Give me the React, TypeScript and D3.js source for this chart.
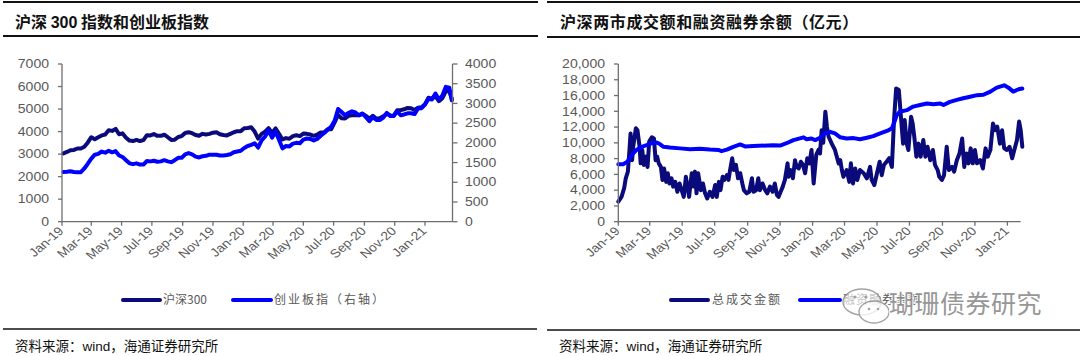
import React from "react";
import * as d3 from "d3";

// ---------- data ----------
const MS_DAY = 864e5;
const BASE = Date.UTC(2019, 0, 1);
const toDate = (d: number) => new Date(BASE + d * MS_DAY);

const xTickLabels = ["Jan-19", "Mar-19", "May-19", "Jul-19", "Sep-19", "Nov-19", "Jan-20", "Mar-20", "May-20", "Jul-20", "Sep-20", "Nov-20", "Jan-21"];
const leftYTicks = [0, 1000, 2000, 3000, 4000, 5000, 6000, 7000];
const rightYTicks = [0, 500, 1000, 1500, 2000, 2500, 3000, 3500, 4000];
const tradeYTicks = [0, 2000, 4000, 6000, 8000, 10000, 12000, 14000, 16000, 18000, 20000];

// weekly closes (Fridays from 2019-01-04), last point 2021-02-24
const leftDays = d3.range(112).map((i) => 3 + 7 * i).concat([785]);
const hs300 = [
  3035, 3095, 3170, 3185, 3250, 3250, 3330, 3520, 3750, 3660, 3750, 3830, 3870, 4060, 4030, 4120, 3880,
  3920, 3730, 3600, 3580, 3630, 3580, 3620, 3840, 3830, 3890, 3810, 3810, 3860, 3750, 3630, 3640, 3760, 3800,
  3940, 3970, 3930, 3850, 3815, 3900, 3870, 3900, 3950, 3970, 3880, 3850, 3830, 3900, 3970, 4020, 4020,
  4145, 4160, 4190, 4000, 3690, 3900, 4000, 4150, 3940, 4140, 3900, 3650, 3710, 3680, 3800, 3840, 3800,
  3910, 3900, 3870, 3810, 3870, 3960, 3970, 4100, 4100, 4410, 4740, 4590, 4580, 4700, 4720, 4730, 4720, 4800,
  4700, 4580, 4700, 4570, 4590, 4680, 4790, 4720, 4700, 4950, 4950, 4990, 5050, 5040, 4960, 5060, 5080,
  5210, 5500, 5460, 5570, 5350, 5480, 5800, 5780, 5450,
];
const cyb = [
  1261, 1268, 1280, 1262, 1255, 1255, 1350, 1470, 1600, 1700, 1720, 1780, 1750, 1800, 1760, 1790, 1680,
  1640, 1560, 1480, 1460, 1480, 1450, 1450, 1540, 1530, 1545, 1520, 1530, 1560, 1530, 1510, 1560, 1620, 1620,
  1710, 1740, 1710, 1650, 1630, 1660, 1670, 1700, 1700, 1700, 1680, 1680, 1690, 1710, 1760, 1780, 1800,
  1870, 1920, 1950, 1990, 1880, 2060, 2160, 2320, 2130, 2290, 2080, 1860, 1920, 1910, 1980, 2000, 1990,
  2080, 2110, 2100, 2060, 2100, 2180, 2250, 2330, 2410, 2560, 2860, 2780, 2700, 2760, 2800, 2770, 2700, 2740,
  2650, 2550, 2650, 2580, 2580, 2640, 2760, 2680, 2680, 2800, 2700, 2720, 2750, 2750, 2730, 2870, 2880,
  2970, 3120, 3100, 3250, 3100, 3200, 3420, 3400, 3080,
];

// 总成交金额 (days since 2019-01-01, 亿元)
const turnoverDays = [
  0, 6, 11, 14, 18, 21, 23, 26, 28, 33, 36, 40, 42, 45, 48, 52, 55, 58, 63, 67, 70, 73, 76, 80, 83, 86, 90, 93, 96, 100,
  103, 107, 111, 115, 119, 123, 127, 130, 133, 138, 141, 144, 147, 150, 155, 159, 163, 167, 172, 177, 182, 185, 189, 192,
  196, 199, 204, 207, 210, 214, 217, 221, 225, 229, 233, 236, 241, 246, 251, 254, 259, 263, 266, 271, 276, 280, 285, 290,
  294, 298, 301, 305, 309, 313, 318, 320, 324, 328, 332, 335, 339, 343, 347, 351, 355, 359, 363, 367, 372, 376, 379, 382,
  385, 389, 392, 395, 401, 407, 414, 417, 420, 423, 429, 434, 437, 441, 445, 449, 454, 461, 467, 473, 476, 481, 486, 491,
  495, 499, 504, 509, 514, 518, 522, 527, 531, 535, 538, 542, 545, 550, 553, 556, 560, 564, 568, 573, 577, 581, 586, 591,
  595, 600, 603, 608, 612, 617, 621, 627, 631, 636, 641, 646, 650, 654, 658, 662, 666, 670, 674, 680, 685, 690, 694, 699,
  704, 708, 712, 717, 721, 725, 730, 735, 740, 744, 749, 753, 756, 759,
];
const turnover = [
  2550, 3150, 4250, 5500, 6350, 9100, 11200, 7800, 9500, 11850, 11600, 9500, 7400, 9100, 7200, 8250, 6950, 10150, 10700, 10550,
  7800, 8250, 7400, 6950, 5300, 6750, 5050, 6150, 4850, 5500, 4450, 5050, 3800, 4850, 4000, 3150, 5700, 4450, 3150, 6150,
  4450, 6350, 3600, 6150, 4000, 4850, 3600, 2950, 3800, 3150, 4650, 3150, 5050, 4000, 5700, 5300, 5900, 5300, 6550, 8050,
  6550, 7200, 5500, 6150, 4850, 4000, 3600, 3800, 5500, 3800, 4000, 5500, 4000, 4850, 4000, 3600, 4450, 3800, 4850, 3400,
  3150, 3800, 4450, 5300, 7400, 5700, 6550, 5500, 7800, 6950, 6750, 7600, 7200, 6150, 8050, 7400, 9100, 4850, 8500, 9100,
  8650, 11600, 10000, 13950, 12000, 10800, 9900, 9100, 7400, 7800, 6550, 5700, 6550, 5050, 7400, 4850, 6750, 5300, 6550, 6150,
  5500, 6950, 5300, 4650, 6150, 7600, 5900, 7200, 7600, 8050, 6950, 12900, 16900, 16700, 13300, 9900, 12900, 9900, 9100, 13300,
  12450, 10800, 8250, 9900, 8250, 10350, 8250, 9500, 7800, 9100, 7200, 6550, 5700, 5300, 5900, 9500, 6550, 6950, 6350, 7800,
  8650, 10550, 6950, 8650, 7400, 9300, 7400, 9100, 7400, 7800, 6750, 9300, 8250, 9100, 12450, 11600, 12050, 9900, 11600, 9300,
  9100, 9500, 8050, 9100, 10350, 12700, 11600, 9500,
];

// 融资融券余额
const marginDays = [
  0, 9, 17, 25, 34, 44, 53, 63, 72, 78, 85, 97, 116, 135, 153, 172, 188, 194, 204, 216, 229, 238, 254, 291, 304, 316, 329,
  348, 354, 363, 370, 379, 388, 398, 407, 417, 429, 442, 454, 467, 479, 492, 506, 514, 519, 523, 529, 542, 554, 567, 580,
  592, 605, 611, 623, 636, 648, 661, 674, 686, 699, 711, 725, 733, 742, 752, 759,
];
const margin = [
  7300, 7300, 7600, 8450, 9100, 9500, 9700, 9950, 10050, 9850, 9500, 9400, 9300, 9200, 9250, 9150, 9100, 8950, 9150, 9500,
  9800, 9550, 9600, 9700, 9650, 9950, 10350, 10700, 10450, 10550, 10350, 10650, 11200, 11400, 11200, 10700, 10550, 10600,
  10450, 10650, 10850, 11200, 11550, 11850, 12700, 13500, 13950, 14150, 14600, 14800, 15000, 14900, 15000, 14800, 15200,
  15450, 15650, 15850, 16050, 16100, 16500, 17000, 17300, 17000, 16500, 16800, 16900,
];

// ---------- styles ----------
const NAVY = "#0a0a7a";
const BLUE = "#0000ff";
const AXIS = "#6e6e6e";
const LABEL = "#595959";
const SANS = "'Liberation Sans', Arial, sans-serif";
const CJK = "'Noto Sans CJK SC', sans-serif";
const parseTick = d3.utcParse("%b-%y");

type Pt = [number, number];

function YLabels({ ticks, scale, x, anchor, fmt }: { ticks: number[]; scale: d3.ScaleLinear<number, number>; x: number; anchor: "start" | "end"; fmt: (v: number) => string }) {
  return (
    <g>
      {ticks.map((t) => (
        <text key={t} transform={`translate(${x},${scale(t)}) scale(1.17,1)`} textAnchor={anchor} dy="0.35em" fontSize={12} fontFamily={SANS} fill={LABEL}>
          {fmt(t)}
        </text>
      ))}
    </g>
  );
}

function XAxis({ scale, y }: { scale: d3.ScaleTime<number, number>; y: number }) {
  const [r0, r1] = scale.range();
  return (
    <g>
      <line x1={r0} x2={r1} y1={y} y2={y} stroke={AXIS} strokeWidth={1.3} />
      {xTickLabels.map((lab) => {
        const x = scale(parseTick(lab) as Date);
        return (
          <g key={lab}>
            <line x1={x} x2={x} y1={y} y2={y + 4} stroke={AXIS} strokeWidth={1.3} />
            <text transform={`translate(${x - 1},${y + 7}) scale(1.15,1) rotate(-45)`} textAnchor="end" dy="0.35em" fontSize={12} fontFamily={SANS} fill={LABEL}>
              {lab}
            </text>
          </g>
        );
      })}
    </g>
  );
}

export default function App() {
  // left panel
  const xL = d3.scaleUtc().domain([toDate(0), toDate(786.4)]).range([62, 452.5]);
  const yL = d3.scaleLinear().domain([0, 7000]).range([221.7, 64]);
  const yR = d3.scaleLinear().domain([0, 4000]).range([221.7, 64]);
  const lineHs = d3.line<Pt>().x((d) => xL(toDate(d[0]))).y((d) => yL(d[1]));
  const lineCyb = d3.line<Pt>().x((d) => xL(toDate(d[0]))).y((d) => yR(d[1]));
  const hsPts: Pt[] = leftDays.map((d, i) => [d, hs300[i]]);
  const cybPts: Pt[] = leftDays.map((d, i) => [d, cyb[i]]);

  // right panel
  const xT = d3.scaleUtc().domain([toDate(0), toDate(756)]).range([618.3, 1020.7]);
  const yT = d3.scaleLinear().domain([0, 20000]).range([221.7, 64]);
  const lineT = d3.line<Pt>().x((d) => xT(toDate(d[0]))).y((d) => yT(d[1]));
  const tPts: Pt[] = turnoverDays.map((d, i) => [d, turnover[i]]);
  const mPts: Pt[] = marginDays.map((d, i) => [d, margin[i]]);

  const fmtComma = d3.format(",");

  return (
    <div style={{ position: "fixed", left: 0, top: 0, width: 1080, height: 356, background: "#fff" }}>
      <svg width={1080} height={356} style={{ display: "block" }}>
        <rect width={1080} height={356} fill="#fff" />
        {/* header lines & titles */}
        <line x1={3} x2={538} y1={2} y2={2} stroke="#111" strokeWidth={2} />
        <line x1={3} x2={538} y1={36} y2={36} stroke="#111" strokeWidth={2} />
        <line x1={547} x2={1080} y1={2} y2={2} stroke="#111" strokeWidth={2} />
        <line x1={547} x2={1080} y1={37} y2={37} stroke="#111" strokeWidth={2} />
        <text x={15} y={28} fontSize={16} fontWeight="bold" fontFamily={CJK} fill="#111">
          沪深 <tspan fontFamily={SANS}>300</tspan> 指数和创业板指数
        </text>
        <text x={560} y={28} fontSize={16} fontWeight="bold" fontFamily={CJK} fill="#111" letterSpacing={0.6}>
          沪深两市成交额和融资融券余额（亿元）
        </text>

        {/* ---- left chart ---- */}
        <path d={lineHs(hsPts) || ""} fill="none" stroke={NAVY} strokeWidth={4} strokeLinejoin="round" strokeLinecap="round" />
        <path d={lineCyb(cybPts) || ""} fill="none" stroke={BLUE} strokeWidth={4} strokeLinejoin="round" strokeLinecap="round" />
        <line x1={62} x2={62} y1={64} y2={221.7} stroke={AXIS} strokeWidth={1.3} />
        {leftYTicks.map((t) => (
          <line key={t} x1={58} x2={62} y1={yL(t)} y2={yL(t)} stroke={AXIS} strokeWidth={1.3} />
        ))}
        <YLabels ticks={leftYTicks} scale={yL} x={49} anchor="end" fmt={(v) => String(v)} />
        <line x1={452.5} x2={452.5} y1={64} y2={221.7} stroke={AXIS} strokeWidth={1.3} />
        {rightYTicks.map((t) => (
          <line key={t} x1={452.5} x2={457.5} y1={yR(t)} y2={yR(t)} stroke={AXIS} strokeWidth={1.3} />
        ))}
        <YLabels ticks={rightYTicks} scale={yR} x={465} anchor="start" fmt={(v) => String(v)} />
        <XAxis scale={xL} y={221.7} />

        {/* left legend */}
        <line x1={123} x2={160} y1={300} y2={300} stroke={NAVY} strokeWidth={4} strokeLinecap="round" />
        <text x={163} y={300} dy="0.35em" fontSize={12} fontFamily={CJK} fill={LABEL}>沪深300</text>
        <line x1={233} x2={271} y1={300} y2={300} stroke={BLUE} strokeWidth={4} strokeLinecap="round" />
        <text x={274} y={300} dy="0.35em" fontSize={12} fontFamily={CJK} fill={LABEL} letterSpacing={2}>创业板指（右轴）</text>

        {/* ---- right chart ---- */}
        <path d={lineT(tPts) || ""} fill="none" stroke={NAVY} strokeWidth={4} strokeLinejoin="round" strokeLinecap="round" />
        <path d={lineT(mPts) || ""} fill="none" stroke={BLUE} strokeWidth={4} strokeLinejoin="round" strokeLinecap="round" />
        <line x1={618.3} x2={618.3} y1={64} y2={221.7} stroke={AXIS} strokeWidth={1.3} />
        {tradeYTicks.map((t) => (
          <line key={t} x1={614} x2={618.3} y1={yT(t)} y2={yT(t)} stroke={AXIS} strokeWidth={1.3} />
        ))}
        <YLabels ticks={tradeYTicks} scale={yT} x={605} anchor="end" fmt={fmtComma} />
        <XAxis scale={xT} y={221.7} />

        {/* right legend */}
        <line x1={671} x2={708} y1={300} y2={300} stroke={NAVY} strokeWidth={4} strokeLinecap="round" />
        <text x={712} y={300} dy="0.35em" fontSize={12} fontFamily={CJK} fill={LABEL} letterSpacing={2}>总成交金额</text>
        <line x1={800} x2={840} y1={300} y2={300} stroke={BLUE} strokeWidth={4} strokeLinecap="round" />
        <text x={843} y={300} dy="0.35em" fontSize={12} fontFamily={CJK} fill={LABEL} letterSpacing={1}>融资融券余额</text>

        {/* footers */}
        <line x1={3} x2={537} y1={329} y2={329} stroke="#111" strokeWidth={1.6} />
        <text x={15} y={351} fontSize={13.5} fontFamily={CJK} fill="#111">
          资料来源：<tspan fontFamily={SANS}>wind</tspan>，海通证券研究所
        </text>
        <line x1={547} x2={1080} y1={330} y2={330} stroke="#111" strokeWidth={1.6} />
        <text x={559} y={351} fontSize={13.5} fontFamily={CJK} fill="#111">
          资料来源：<tspan fontFamily={SANS}>wind</tspan>，海通证券研究所
        </text>

        {/* watermark */}
        <g opacity={0.9}>
          <ellipse cx={862} cy={302} rx={19} ry={13} fill="#fff" fillOpacity={0.7} stroke="#9a9a9a" strokeWidth={1.4} />
          <ellipse cx={874} cy={312} rx={15} ry={11} fill="#fff" fillOpacity={0.8} stroke="#9a9a9a" strokeWidth={1.4} />
          <circle cx={855} cy={297} r={1.6} fill="#9a9a9a" />
          <circle cx={866} cy={297} r={1.6} fill="#9a9a9a" />
          <circle cx={869} cy={309} r={1.3} fill="#9a9a9a" />
          <circle cx={878} cy={309} r={1.3} fill="#9a9a9a" />
          <text x={889} y={313} fontSize={25} fontFamily={CJK} fill="#8c8c8c" stroke="#fff" strokeWidth={2} paintOrder="stroke" letterSpacing={0.5}>
            瑚珊债券研究
          </text>
        </g>
      </svg>
    </div>
  );
}
